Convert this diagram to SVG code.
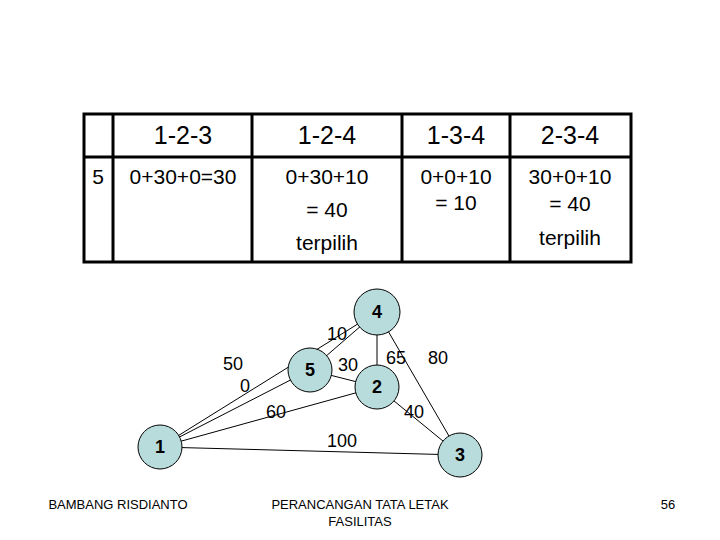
<svg xmlns="http://www.w3.org/2000/svg" width="720" height="540" viewBox="0 0 720 540">
<style>
text{font-family:"Liberation Sans",Arial,sans-serif;fill:#000}
.t{font-size:25px;text-anchor:middle}
.c{font-size:21px;text-anchor:middle}
.n circle{fill:#b8dcdc;stroke:#000;stroke-width:1}
.n text{font-size:18px;font-weight:bold;text-anchor:middle}
.e line{stroke:#000;stroke-width:1}
.w{font-size:18px;text-anchor:middle}
.f{font-size:13px;text-anchor:middle}
</style>
<rect width="720" height="540" fill="#fff"/>
<g id="table" fill="none" stroke="#000" stroke-width="3">
<rect x="84" y="114" width="547" height="148"/>
<line x1="84" y1="157" x2="631" y2="157"/>
<line x1="113" y1="114" x2="113" y2="262"/>
<line x1="252" y1="114" x2="252" y2="262"/>
<line x1="402" y1="114" x2="402" y2="262"/>
<line x1="510" y1="114" x2="510" y2="262"/>
</g>
<g id="table-text">
<text class="t" x="183" y="144">1-2-3</text>
<text class="t" x="327" y="144">1-2-4</text>
<text class="t" x="456" y="144">1-3-4</text>
<text class="t" x="570" y="144">2-3-4</text>
<text class="c" x="98" y="184">5</text>
<text class="c" x="183" y="184">0+30+0=30</text>
<text class="c" x="327" y="184">0+30+10</text>
<text class="c" x="327" y="217">= 40</text>
<text class="c" x="327" y="250">terpilih</text>
<text class="c" x="456" y="184">0+0+10</text>
<text class="c" x="456" y="210">= 10</text>
<text class="c" x="570" y="184">30+0+10</text>
<text class="c" x="570" y="211">= 40</text>
<text class="c" x="570" y="245">terpilih</text>
</g>
<g id="edges" class="e">
<line x1="160" y1="447" x2="377" y2="312"/>
<line x1="160" y1="447" x2="310" y2="370"/>
<line x1="160" y1="447" x2="377" y2="387"/>
<line x1="160" y1="447" x2="460" y2="455"/>
<line x1="310" y1="370" x2="377" y2="312"/>
<line x1="310" y1="370" x2="377" y2="387"/>
<line x1="377" y1="312" x2="377" y2="387"/>
<line x1="377" y1="312" x2="460" y2="455"/>
<line x1="377" y1="387" x2="460" y2="455"/>
</g>
<g id="weights">
<text class="w" x="337" y="340">10</text>
<text class="w" x="233" y="370">50</text>
<text class="w" x="245" y="392">0</text>
<text class="w" x="348" y="371">30</text>
<text class="w" x="396" y="364">65</text>
<text class="w" x="438" y="364">80</text>
<text class="w" x="276" y="418">60</text>
<text class="w" x="414" y="418">40</text>
<text class="w" x="342" y="447">100</text>
</g>
<g id="node1" class="n"><circle cx="160" cy="447" r="22"/><text x="160" y="453">1</text></g>
<g id="node2" class="n"><circle cx="377" cy="387" r="22"/><text x="377" y="393">2</text></g>
<g id="node3" class="n"><circle cx="460" cy="455" r="22"/><text x="460" y="461">3</text></g>
<g id="node4" class="n"><circle cx="377" cy="312" r="23"/><text x="377" y="318">4</text></g>
<g id="node5" class="n"><circle cx="310" cy="370" r="22"/><text x="310" y="376">5</text></g>
<g id="footer">
<text class="f" x="118" y="509">BAMBANG RISDIANTO</text>
<text class="f" x="360" y="509">PERANCANGAN TATA LETAK</text>
<text class="f" x="360" y="526">FASILITAS</text>
<text class="f" x="668" y="509">56</text>
</g>
</svg>
